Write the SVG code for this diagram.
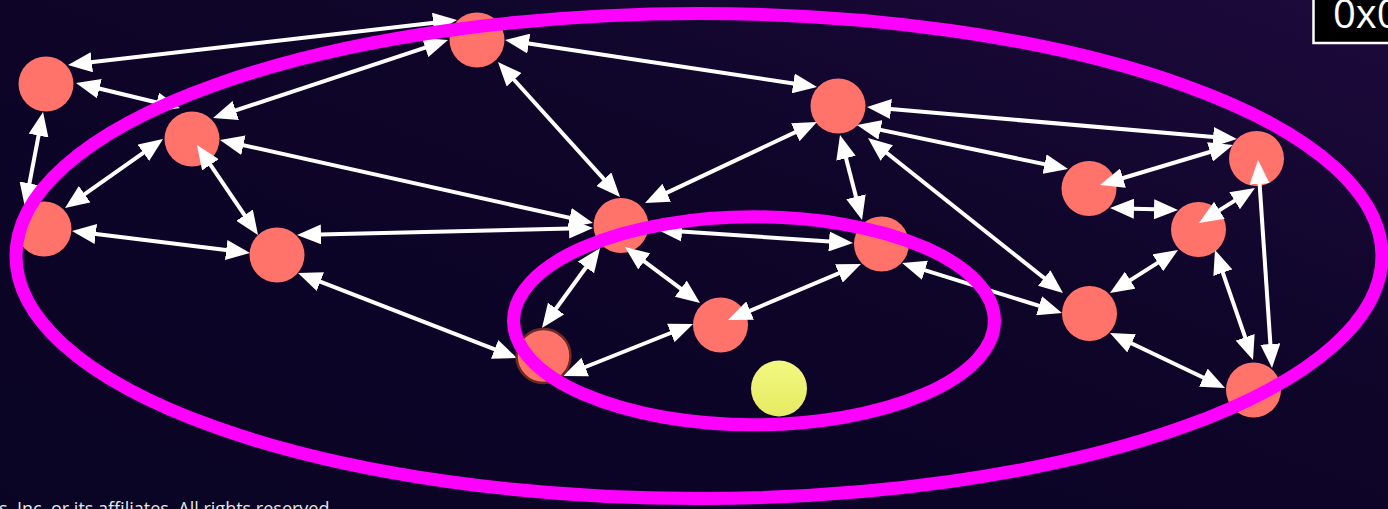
<svg xmlns="http://www.w3.org/2000/svg" width="1388" height="509" viewBox="0 0 1388 509">
<defs>
<linearGradient id="bg" x1="0" y1="1" x2="1" y2="0">
<stop offset="0" stop-color="#0a0424"/>
<stop offset="0.6" stop-color="#0e0529"/>
<stop offset="1" stop-color="#1d0a3c"/>
</linearGradient>
<linearGradient id="yel" x1="0" y1="0" x2="0" y2="1">
<stop offset="0" stop-color="#f2f981"/>
<stop offset="1" stop-color="#e6ea62"/>
</linearGradient>
<marker id="ah" viewBox="0 0 24 20" refX="12" refY="10" markerWidth="24" markerHeight="20" markerUnits="userSpaceOnUse" orient="auto-start-reverse">
<path d="M0,0 L24,10 L0,20 z" fill="#ffffff"/>
</marker>
<style>
.node{fill:#ff736b}
.edge{stroke:#ffffff;stroke-width:4;fill:none;marker-start:url(#ah);marker-end:url(#ah)}
.ring{fill:none;stroke:#ff00ff;stroke-width:13}
</style>
</defs>
<rect width="1388" height="509" fill="url(#bg)"/>
<g id="nodes">
<g id="n1"><circle class="node" cx="46" cy="84" r="27.5"/></g>
<g id="n2"><circle class="node" cx="477" cy="40" r="27.5"/></g>
<g id="n3"><circle class="node" cx="192" cy="139" r="27.5"/></g>
<g id="n4"><circle class="node" cx="44" cy="229" r="27.5"/></g>
<g id="n5"><circle class="node" cx="277" cy="255" r="27.5"/></g>
<g id="n6"><circle class="node" cx="621" cy="225.5" r="27.5"/></g>
<g id="n7"><circle class="node" cx="838" cy="106" r="27.5"/></g>
<g id="n8"><circle class="node" cx="881.5" cy="244" r="27.5"/></g>
<g id="n9"><circle class="node" cx="720.5" cy="325" r="27.5"/></g>
<g id="n11"><circle class="node" cx="1089" cy="188.5" r="27.5"/></g>
<g id="n12"><circle class="node" cx="1256.5" cy="158.5" r="27.5"/></g>
<g id="n13"><circle class="node" cx="1198.5" cy="229.5" r="27.5"/></g>
<g id="n14"><circle class="node" cx="1089.5" cy="313.5" r="27.5"/></g>
<g id="n15"><circle class="node" cx="1253.5" cy="390" r="27.5"/></g>
<g id="n16"><circle cx="779" cy="388.5" r="28" fill="url(#yel)"/></g>
</g>
<g id="connectors">
<line class="edge" x1="79.9" y1="63.6" x2="445.1" y2="21.4"/>
<line class="edge" x1="224.4" y1="114.2" x2="436.6" y2="43.8"/>
<line class="edge" x1="87.7" y1="85.8" x2="168.3" y2="105.2"/>
<line class="edge" x1="40.8" y1="123.8" x2="27.2" y2="195.2"/>
<line class="edge" x1="153.2" y1="145.9" x2="74.8" y2="201.1"/>
<line class="edge" x1="203.7" y1="154.9" x2="251.3" y2="225.1"/>
<line class="edge" x1="83.9" y1="232.5" x2="238.1" y2="251.5"/>
<line class="edge" x1="231.7" y1="142.6" x2="581.3" y2="220.4"/>
<line class="edge" x1="309" y1="234.7" x2="581" y2="228.3"/>
<line class="edge" x1="309.2" y1="277.3" x2="505.8" y2="353.7"/>
<line class="edge" x1="506" y1="70.9" x2="612" y2="188.1"/>
<line class="edge" x1="806.1" y1="127.1" x2="655.9" y2="197.9"/>
<line class="edge" x1="516.9" y1="41.8" x2="805.1" y2="85.2"/>
<line class="edge" x1="670" y1="230.8" x2="841" y2="242.2"/>
<line class="edge" x1="634.6" y1="254.2" x2="690.4" y2="295.8"/>
<line class="edge" x1="739.1" y1="315.3" x2="849.9" y2="268.7"/>
<line class="edge" x1="574.1" y1="371.5" x2="681.9" y2="328.5"/>
<line class="edge" x1="549" y1="318.3" x2="593" y2="257.7"/>
<line class="edge" x1="843" y1="146.6" x2="859" y2="208.4"/>
<line class="edge" x1="879" y1="108" x2="1225" y2="138"/>
<line class="edge" x1="868.7" y1="127.4" x2="1056.3" y2="166.6"/>
<line class="edge" x1="877.4" y1="145.5" x2="1053.6" y2="285.5"/>
<line class="edge" x1="913.5" y1="266.6" x2="1050.5" y2="309.4"/>
<line class="edge" x1="1111.5" y1="181.5" x2="1221.5" y2="148.5"/>
<line class="edge" x1="1122" y1="208.4" x2="1166" y2="209.6"/>
<line class="edge" x1="1209.2" y1="216.6" x2="1244.8" y2="194.4"/>
<line class="edge" x1="1258.8" y1="172" x2="1271.2" y2="356"/>
<line class="edge" x1="1218.9" y1="261.3" x2="1249.1" y2="348.7"/>
<line class="edge" x1="1120.1" y1="286.6" x2="1167.9" y2="256.4"/>
<line class="edge" x1="1120.8" y1="338.2" x2="1214.2" y2="382.8"/>
</g>
<g id="n10"><circle cx="543.5" cy="356" r="27" fill="#ff736b" stroke="#6b2a22" stroke-width="2.5"/></g>
<g id="groups">
<ellipse class="ring" cx="699" cy="256" rx="683" ry="242.5"/>
<ellipse class="ring" cx="754" cy="320.8" rx="240.5" ry="104"/>
</g>
<g id="label">
<rect x="1313.5" y="-5" width="90" height="48" fill="#000000" stroke="#ffffff" stroke-width="2.5"/>
<text x="1333" y="28" font-family="Open Sans, sans-serif" font-size="40" fill="#ffffff">0x0</text>
</g>
<text x="-1" y="515" font-family="Open Sans, sans-serif" font-size="18" fill="#e6e6e6">s, Inc. or its affiliates. All rights reserved.</text>
</svg>
